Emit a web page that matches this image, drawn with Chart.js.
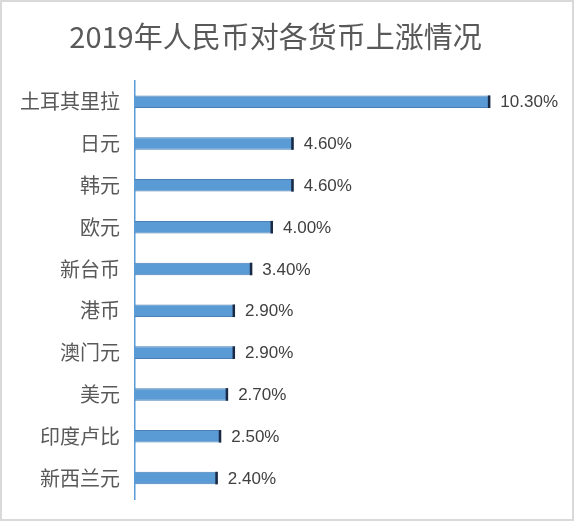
<!DOCTYPE html>
<html>
<head>
<meta charset="utf-8">
<script src="https://cdn.jsdelivr.net/npm/chart.js@4/dist/chart.umd.min.js"></script>
<style>
  html, body { margin: 0; padding: 0; background: #fff; }
  #wrap { width: 574px; height: 521px; box-sizing: border-box; border: 2px solid #d9d9d9; background: #fff; }
</style>
</head>
<body>
<div id="wrap"><canvas id="myChart" width="570" height="517"></canvas></div>
<script>
var categories = ["土耳其里拉", "日元", "韩元", "欧元", "新台币", "港币", "澳门元", "美元", "印度卢比", "新西兰元"];
var rises = [10.3, 4.6, 4.6, 4.0, 3.4, 2.9, 2.9, 2.7, 2.5, 2.4];

const fontFamily = "'Noto Sans CJK SC', 'Noto Sans', sans-serif";

// dark cap at the end of each bar + value label
const barExtras = {
    id: 'barExtras',
    afterDatasetsDraw(chart) {
        const ctx = chart.ctx;
        const meta = chart.getDatasetMeta(0);
        ctx.save();
        meta.data.forEach((bar, i) => {
            const h = bar.height;
            ctx.fillStyle = '#1b2a44';
            ctx.fillRect(bar.x - 2.5, bar.y - h / 2, 2.5, h);
            ctx.fillStyle = '#404040';
            ctx.font = "17px 'Liberation Sans', sans-serif";
            ctx.textAlign = 'left';
            ctx.textBaseline = 'middle';
            ctx.fillText(rises[i].toFixed(2) + '%', bar.x + 10, bar.y + 1);
        });
        ctx.restore();
    }
};

new Chart("myChart", {
    type: "bar",
    data: {
        labels: categories,
        datasets: [{
            data: rises,
            backgroundColor: '#5b9bd5',
            borderColor: '#4a7fb5',
            borderWidth: 1,
            borderSkipped: 'left',
            barPercentage: 0.3,
            categoryPercentage: 1
        }]
    },
    options: {
        indexAxis: 'y',
        responsive: false,
        animation: false,
        layout: { padding: { left: 0, right: 23, top: 0, bottom: 20 } },
        plugins: {
            legend: { display: false },
            tooltip: { enabled: false },
            title: {
                display: true,
                text: "2019年人民币对各货币上涨情况",
                color: '#595959',
                font: { family: fontFamily, size: 29, weight: 'normal', lineHeight: 1.2 },
                padding: { top: 18, bottom: 26 }
            }
        },
        scales: {
            x: {
                display: false,
                min: 0,
                max: 12
            },
            y: {
                grid: { display: false, drawTicks: false },
                border: { display: true, color: '#5b9bd5', width: 1.5 },
                ticks: {
                    color: '#595959',
                    padding: 15,
                    font: { family: fontFamily, size: 20 }
                },
                afterFit(scale) {
                    scale.width = 133;
                    scale.paddingTop = 0;
                    scale.paddingBottom = 0;
                }
            }
        }
    },
    plugins: [barExtras]
});
</script>
</body>
</html>
